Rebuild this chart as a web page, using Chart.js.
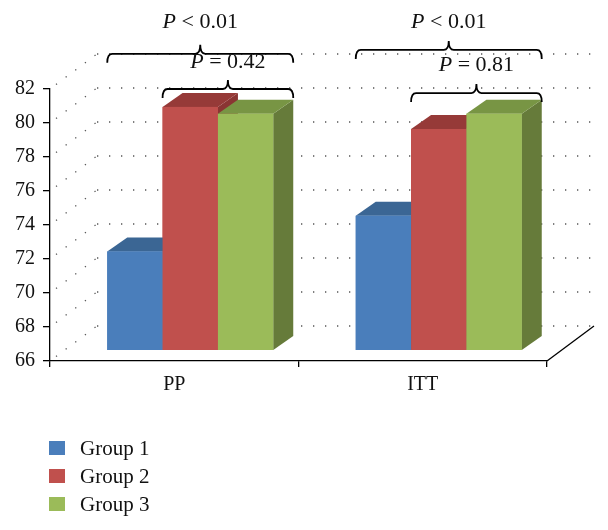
<!DOCTYPE html>
<html>
<head>
<meta charset="utf-8">
<script src="https://cdn.jsdelivr.net/npm/chart.js@4.4.1/dist/chart.umd.min.js"></script>
<style>
  body { margin: 0; background: #fff; }
  #wrap { position: relative; width: 608px; height: 530px; }
  #legend { position: absolute; left: 49px; top: 434px; font: 21px 'Liberation Serif', serif; color: #111; }
  .item { display: flex; align-items: center; height: 28px; }
  .sw { width: 16px; height: 14px; margin-right: 15px; }
</style>
</head>
<body>
<div id="wrap">
  <canvas id="myChart" width="608" height="530"></canvas>
  <div id="legend"></div>
</div>
<script>
const categories = ['PP', 'ITT'];
const groupNames = ['Group 1', 'Group 2', 'Group 3'];
const group1 = [71.8, 73.9];
const group2 = [80.3, 79.0];
const group3 = [79.9, 79.9];
const yMin = 66, yMax = 82, yStep = 2;

const frontColors = ['#4a7ebb', '#c0504d', '#9bbb59'];
const topColors = ['#3b6694', '#963a38', '#789544'];
const sideColors = ['#345a84', '#8a3533', '#667b3a'];

// p-value brackets: category, first and last bar, level of the line, level of the text baseline
const bracketCat = [0, 0, 1, 1];
const bracketFrom = [0, 1, 0, 1];
const bracketTo = [2, 2, 2, 2];
const bracketLevel = [84.07, 82.0, 84.3, 81.76];
const bracketTextLevel = [85.6, 83.24, 85.6, 83.06];
const bracketText = ['< 0.01', '= 0.42', '< 0.01', '= 0.81'];

const FONT = "'Liberation Serif', serif";
const wall = { dx: 47, dy: -35 };     // back wall offset
const front = { dx: 16, dy: -11 };    // bar front face offset
const depth = { dx: 20, dy: -14 };    // bar depth

function line(ctx, x1, y1, x2, y2) {
  ctx.beginPath();
  ctx.moveTo(x1, y1);
  ctx.lineTo(x2, y2);
  ctx.stroke();
}

const threeD = {
  id: 'threeD',
  beforeDatasetsDraw(chart) {
    const ctx = chart.ctx;
    const area = chart.chartArea;
    const ys = chart.scales.y;
    ctx.save();
    ctx.strokeStyle = '#555';
    ctx.lineWidth = 1.3;
    ctx.setLineDash([1.3, 10.7]);
    for (let v = yMin; v <= yMax; v += yStep) {
      const y = ys.getPixelForValue(v);
      line(ctx, area.left + wall.dx, y + wall.dy, area.right + wall.dx, y + wall.dy);
      line(ctx, area.left + 6, y - 4.5, area.left + wall.dx, y + wall.dy);
    }
    ctx.restore();
    // floor edge on the right
    ctx.save();
    ctx.strokeStyle = '#000';
    ctx.lineWidth = 1.3;
    line(ctx, area.right, area.bottom, area.right + wall.dx, area.bottom + wall.dy);
    ctx.restore();

    ctx.save();
    ctx.translate(front.dx, front.dy);
  },
  afterDatasetsDraw(chart) {
    const ctx = chart.ctx;
    const n = chart.data.labels.length;
    const bottom = chart.scales.y.getPixelForValue(yMin);
    for (let i = 0; i < n; i++) {
      chart.data.datasets.forEach((ds, d) => {
        const el = chart.getDatasetMeta(d).data[i];
        const p = el.getProps(['x', 'y', 'base', 'width'], true);
        const base = Math.min(p.base, bottom);
        const l = p.x - p.width / 2, r = p.x + p.width / 2;
        ctx.fillStyle = sideColors[d];
        ctx.beginPath();
        ctx.moveTo(r, p.y);
        ctx.lineTo(r + depth.dx, p.y + depth.dy);
        ctx.lineTo(r + depth.dx, base + depth.dy);
        ctx.lineTo(r, base);
        ctx.closePath();
        ctx.fill();
        ctx.fillStyle = topColors[d];
        ctx.beginPath();
        ctx.moveTo(l, p.y);
        ctx.lineTo(l + depth.dx, p.y + depth.dy);
        ctx.lineTo(r + depth.dx, p.y + depth.dy);
        ctx.lineTo(r, p.y);
        ctx.closePath();
        ctx.fill();
        ctx.fillStyle = frontColors[d];
        ctx.fillRect(l, p.y, p.width, base - p.y);
      });
    }
    ctx.restore();
  },
  afterDraw(chart) {
    const ctx = chart.ctx;
    const ys = chart.scales.y;
    ctx.save();
    ctx.strokeStyle = '#000';
    ctx.fillStyle = '#111';
    ctx.lineWidth = 1.8;
    for (let k = 0; k < bracketCat.length; k++) {
      const a = chart.getDatasetMeta(bracketFrom[k]).data[bracketCat[k]];
      const b = chart.getDatasetMeta(bracketTo[k]).data[bracketCat[k]];
      const x1 = a.x - a.width / 2 + front.dx;
      const x2 = b.x + b.width / 2 + front.dx + depth.dx;
      const xm = (x1 + x2) / 2;
      const y = ys.getPixelForValue(bracketLevel[k]);
      const h = 9, rr = 5;
      ctx.beginPath();
      ctx.moveTo(x1, y + h);
      ctx.quadraticCurveTo(x1, y, x1 + rr, y);
      ctx.lineTo(xm - rr, y);
      ctx.quadraticCurveTo(xm, y, xm, y - h);
      ctx.quadraticCurveTo(xm, y, xm + rr, y);
      ctx.lineTo(x2 - rr, y);
      ctx.quadraticCurveTo(x2, y, x2, y + h);
      ctx.stroke();

      const ty = ys.getPixelForValue(bracketTextLevel[k]);
      ctx.textBaseline = 'alphabetic';
      ctx.textAlign = 'left';
      ctx.font = 'italic 22px ' + FONT;
      const wp = ctx.measureText('P').width;
      ctx.font = '22px ' + FONT;
      const rest = ' ' + bracketText[k];
      const wr = ctx.measureText(rest).width;
      const sx = xm - (wp + wr) / 2;
      ctx.font = 'italic 22px ' + FONT;
      ctx.fillText('P', sx, ty);
      ctx.font = '22px ' + FONT;
      ctx.fillText(rest, sx + wp, ty);
    }
    ctx.restore();
  }
};

const ctx = document.getElementById('myChart').getContext('2d');
const chart = new Chart(ctx, {
  type: 'bar',
  data: {
    labels: categories,
    datasets: [
      { label: groupNames[0], data: group1, backgroundColor: frontColors[0] },
      { label: groupNames[1], data: group2, backgroundColor: frontColors[1] },
      { label: groupNames[2], data: group3, backgroundColor: frontColors[2] }
    ]
  },
  options: {
    responsive: false,
    animation: false,
    devicePixelRatio: 1,
    layout: { padding: { top: 89, right: 61, left: 0, bottom: 0 } },
    datasets: { bar: { categoryPercentage: 0.668, barPercentage: 1.0 } },
    plugins: { legend: { display: false }, tooltip: { enabled: false } },
    scales: {
      x: {
        grid: { drawOnChartArea: false, tickLength: 6, color: '#000', lineWidth: 1.3 },
        border: { color: '#000', width: 1.3 },
        ticks: { font: { family: FONT, size: 20 }, color: '#111', padding: 6 },
        afterFit(scale) { scale.height = 169; }
      },
      y: {
        min: yMin,
        max: yMax,
        grid: { drawOnChartArea: false, tickLength: 7, color: '#000', lineWidth: 1.3 },
        border: { color: '#000', width: 1.3 },
        ticks: { stepSize: yStep, font: { family: FONT, size: 20 }, color: '#111', padding: 8 },
        afterFit(scale) { scale.width = 50; }
      }
    }
  },
  plugins: [threeD]
});

// legend built from the dataset names and colours
const legend = document.getElementById('legend');
groupNames.forEach((name, i) => {
  const row = document.createElement('div');
  row.className = 'item';
  const sw = document.createElement('span');
  sw.className = 'sw';
  sw.style.background = frontColors[i];
  const label = document.createElement('span');
  label.textContent = name;
  row.appendChild(sw);
  row.appendChild(label);
  legend.appendChild(row);
});
</script>
</body>
</html>
